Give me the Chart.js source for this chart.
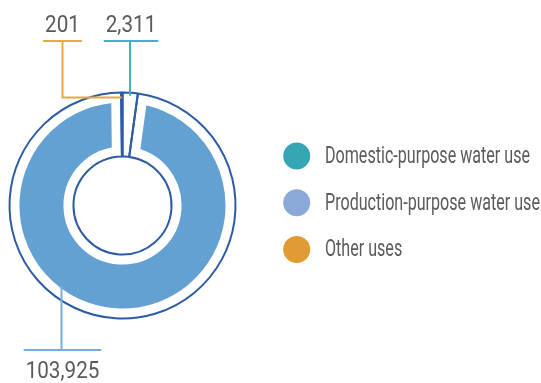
<!DOCTYPE html>
<html>
<head>
<meta charset="utf-8">
<script src="https://cdn.jsdelivr.net/npm/chart.js@4"></script>
<style>
  html, body { margin: 0; padding: 0; background: #fff; }
  #wrap { position: relative; width: 541px; height: 383px; }
  #wrap canvas { position: absolute; left: 0; top: 0; }
</style>
</head>
<body>
<div id="wrap">
  <canvas id="fillChart" width="541" height="383"></canvas>
  <canvas id="lineChart" width="541" height="383"></canvas>
</div>
<script>
// data
var categories = ['Domestic-purpose water use', 'Production-purpose water use', 'Other uses'];
var waterUse = [2311, 103925, 201];

// styles
var ringFill = ['rgba(0,0,0,0)', '#64a1d3', 'rgba(0,0,0,0)'];
var outlineColor = '#2d5ba6';
var legendColors = ['#35a6b4', '#8aa9d9', '#e09b34'];
var leaderColors = ['#3cb3c0', '#78acdf', '#e8a840'];
var textColor = '#5b5b5b';

var layout = { top: 83, left: 0, right: 296, bottom: 55 };

function fmt(v) { return v.toLocaleString('en-US'); }

function drawText(ctx, text, x, y, scale, align) {
  ctx.save();
  ctx.translate(x, y);
  ctx.scale(scale, 1);
  ctx.textAlign = align;
  ctx.fillText(text, 0, 0);
  ctx.restore();
}

// leader lines, value labels and legend
var calloutPlugin = {
  id: 'callouts',
  afterDraw: function(chart) {
    var ctx = chart.ctx;
    var arcs = chart.getDatasetMeta(0).data;
    ctx.save();
    ctx.font = '24px Roboto';
    ctx.textBaseline = 'alphabetic';
    ctx.lineWidth = 2;
    var numScale = 0.86;
    // condensed legend text, first line about 205px wide
    var legScale = 205 / ctx.measureText(categories[0]).width;

    function pointOn(arc, r) {
      var a = (arc.startAngle + arc.endAngle) / 2;
      return { x: arc.x + r * Math.cos(a), y: arc.y + r * Math.sin(a) };
    }
    function labelBar(text, cx, barY, textY, color) {
      var w = ctx.measureText(text).width * numScale + 4;
      ctx.strokeStyle = color;
      ctx.beginPath();
      ctx.moveTo(cx - w / 2, barY);
      ctx.lineTo(cx + w / 2, barY);
      ctx.stroke();
      ctx.fillStyle = textColor;
      drawText(ctx, text, cx, textY, numScale, 'center');
    }

    var topBar = 41, topText = 32;

    // Other uses (index 2)
    var o = pointOn(arcs[2], arcs[2].outerRadius - 5);
    var oX = 62.5;
    ctx.strokeStyle = leaderColors[2];
    ctx.beginPath();
    ctx.moveTo(o.x, o.y);
    ctx.lineTo(oX, o.y);
    ctx.lineTo(oX, topBar);
    ctx.stroke();
    labelBar(fmt(waterUse[2]), oX, topBar, topText, leaderColors[2]);

    // Domestic (index 0)
    var d = pointOn(arcs[0], arcs[0].outerRadius - 3);
    ctx.strokeStyle = leaderColors[0];
    ctx.beginPath();
    ctx.moveTo(d.x, d.y);
    ctx.lineTo(d.x, topBar);
    ctx.stroke();
    labelBar(fmt(waterUse[0]), d.x + 1, topBar, topText, leaderColors[0]);

    // Production (index 1)
    var p = arcs[1];
    var pX = 61.5, r = p.outerRadius - 12;
    var pY = p.y + Math.sqrt(r * r - (pX - p.x) * (pX - p.x));
    ctx.strokeStyle = leaderColors[1];
    ctx.beginPath();
    ctx.moveTo(pX, pY);
    ctx.lineTo(pX, 350);
    ctx.stroke();
    labelBar(fmt(waterUse[1]), pX + 1, 350, 378, leaderColors[1]);

    // legend
    for (var i = 0; i < categories.length; i++) {
      var ly = 156 + i * 46.7;
      ctx.fillStyle = legendColors[i];
      ctx.beginPath();
      ctx.arc(296.7, ly, 13.5, 0, Math.PI * 2);
      ctx.fill();
      ctx.fillStyle = textColor;
      drawText(ctx, categories[i], 325, ly + 7, legScale, 'left');
    }
    ctx.restore();
  }
};

function baseOptions() {
  return {
    responsive: false,
    devicePixelRatio: 1,
    animation: false,
    events: [],
    radius: 113,
    cutout: '43.4%',
    rotation: 0,
    layout: { padding: layout },
    plugins: { legend: { display: false }, tooltip: { enabled: false } }
  };
}

// light blue ring, inset by a white border
new Chart(document.getElementById('fillChart'), {
  type: 'doughnut',
  data: {
    labels: categories,
    datasets: [{
      data: waterUse,
      backgroundColor: ringFill,
      borderColor: '#ffffff',
      borderWidth: [0, 20, 0],
      borderAlign: 'center'
    }]
  },
  options: baseOptions()
});

// dark blue slice outlines
new Chart(document.getElementById('lineChart'), {
  type: 'doughnut',
  data: {
    labels: categories,
    datasets: [{
      data: waterUse,
      backgroundColor: 'rgba(0,0,0,0)',
      borderColor: outlineColor,
      borderWidth: 2,
      borderAlign: 'center'
    }]
  },
  options: baseOptions(),
  plugins: [calloutPlugin]
});
</script>
</body>
</html>
